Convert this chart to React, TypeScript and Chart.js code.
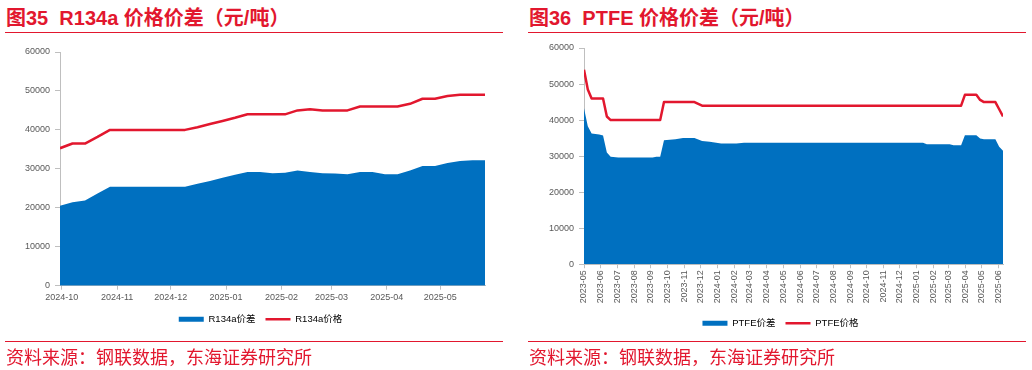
import React, { useEffect, useRef } from 'react';
import { Chart, registerables } from 'chart.js';

Chart.register(...registerables);

// ---------- R134a (left) ----------
const R134A_DATES = [
  '2024-09-30', '2024-10-07', '2024-10-14', '2024-10-21', '2024-10-28',
  '2024-11-04', '2024-11-11', '2024-11-18', '2024-11-25', '2024-12-02',
  '2024-12-09', '2024-12-16', '2024-12-23', '2024-12-30', '2025-01-06',
  '2025-01-13', '2025-01-20', '2025-01-27', '2025-02-03', '2025-02-10',
  '2025-02-17', '2025-02-24', '2025-03-03', '2025-03-10', '2025-03-17',
  '2025-03-24', '2025-03-31', '2025-04-07', '2025-04-14', '2025-04-21',
  '2025-04-28', '2025-05-05', '2025-05-12', '2025-05-19', '2025-05-26',
];
const R134A_SPREAD = [
  20500, 21400, 21900, 23700, 25400,
  25400, 25400, 25400, 25400, 25400,
  25400, 26200, 26900, 27700, 28500,
  29200, 29200, 28900, 29000, 29600,
  29200, 28900, 28800, 28600, 29200,
  29200, 28600, 28600, 29600, 30700,
  30700, 31500, 32000, 32200, 32200,
];
const R134A_PRICE = [
  35300, 36500, 36500, 38200, 40000,
  40000, 40000, 40000, 40000, 40000,
  40000, 40700, 41500, 42300, 43100,
  44000, 44000, 44000, 44000, 45000,
  45300, 45000, 45000, 45000, 46000,
  46000, 46000, 46000, 46700, 48000,
  48000, 48700, 49000, 49000, 49000,
];
const R134A_MONTHS = ['2024-10', '2024-11', '2024-12', '2025-01', '2025-02', '2025-03', '2025-04', '2025-05'];

// ---------- PTFE (right) ----------
const PTFE_DATES = [
  '2023-05-01', '2023-05-08', '2023-05-15', '2023-05-29', '2023-06-05',
  '2023-06-12', '2023-06-19', '2023-07-03', '2023-09-04', '2023-09-11',
  '2023-09-18', '2023-09-25', '2023-10-16', '2023-10-30', '2023-11-20',
  '2023-12-04', '2023-12-18', '2024-01-08', '2024-02-05', '2024-02-19',
  '2025-01-13', '2025-01-20', '2025-03-03', '2025-03-10', '2025-03-24',
  '2025-03-31', '2025-04-21', '2025-04-28', '2025-05-05', '2025-05-26',
  '2025-06-02', '2025-06-09',
];
const PTFE_SPREAD = [
  43300, 38300, 36300, 36000, 35700,
  31000, 29800, 29600, 29600, 29800,
  29800, 34400, 34700, 35000, 35000,
  34200, 34000, 33500, 33500, 33700,
  33700, 33300, 33300, 33000, 33000,
  35800, 35800, 34900, 34700, 34700,
  32600, 31500,
];
const PTFE_PRICE = [
  54000, 48500, 46000, 46000, 46000,
  41000, 40000, 40000, 40000, 40000,
  40000, 45000, 45000, 45000, 45000,
  44000, 44000, 44000, 44000, 44000,
  44000, 44000, 44000, 44000, 44000,
  47000, 47000, 45600, 45000, 45000,
  43000, 41000,
];
const PTFE_MONTHS = [
  '2023-05', '2023-06', '2023-07', '2023-08', '2023-09', '2023-10', '2023-11', '2023-12',
  '2024-01', '2024-02', '2024-03', '2024-04', '2024-05', '2024-06', '2024-07', '2024-08',
  '2024-09', '2024-10', '2024-11', '2024-12', '2025-01', '2025-02', '2025-03', '2025-04',
  '2025-05', '2025-06',
];

const Y_TICKS_MAX = 60000;
const Y_TICKS_STEP = 10000;

const BLUE = '#0070C0';
const RED = '#E2172E';
const AXIS = '#BFBFBF';
const TICK = '#595959';
const FONT = '"Liberation Sans", Arial, "Noto Sans CJK SC", sans-serif';

const toDay = (s: string) => {
  const [y, m, d] = s.split('-').map(Number);
  return Date.UTC(y, m - 1, d || 1) / 86400000;
};

type Cfg = {
  dates: string[];
  spread: number[];
  price: number[];
  months: string[];
  spreadLabel: string;
  priceLabel: string;
  rotate: boolean;
  yAxisWidth: number;
  xAxisHeight: number;
  legendShift: number;
  pad: { left: number; right: number; top: number; bottom: number };
};

function ChartCanvas({ cfg, left }: { cfg: Cfg; left: number }) {
  const ref = useRef<HTMLCanvasElement>(null);
  useEffect(() => {
    const monthMap = new Map<number, string>();
    cfg.months.forEach((m) => monthMap.set(toDay(m + '-01'), m));
    const xs = cfg.dates.map(toDay);
    const legendShiftPlugin = {
      id: 'legendShift',
      afterLayout(chart: any) {
        const lg = chart.legend;
        if (lg) {
          lg.left += cfg.legendShift;
          lg.right += cfg.legendShift;
        }
      },
    };
    const chart = new Chart(ref.current!, {
      type: 'line',
      data: {
        datasets: [
          {
            label: cfg.spreadLabel,
            data: xs.map((x, i) => ({ x, y: cfg.spread[i] })),
            fill: 'origin',
            backgroundColor: BLUE,
            borderColor: BLUE,
            borderWidth: 0,
            pointRadius: 0,
            tension: 0,
          },
          {
            label: cfg.priceLabel,
            data: xs.map((x, i) => ({ x, y: cfg.price[i] })),
            fill: false,
            borderColor: RED,
            backgroundColor: RED,
            borderWidth: 2.5,
            borderJoinStyle: 'round',
            pointRadius: 0,
            tension: 0,
          },
        ],
      },
      options: {
        animation: false,
        responsive: false,
        events: [],
        layout: { padding: cfg.pad },
        scales: {
          x: {
            type: 'linear',
            min: xs[0],
            max: xs[xs.length - 1],
            afterBuildTicks: (scale: any) => {
              scale.ticks = cfg.months.map((m) => ({ value: toDay(m + '-01') }));
            },
            afterFit: (scale: any) => {
              scale.height = cfg.xAxisHeight;
            },
            ticks: {
              autoSkip: false,
              minRotation: cfg.rotate ? 90 : 0,
              maxRotation: cfg.rotate ? 90 : 0,
              padding: 2,
              color: TICK,
              font: { family: FONT, size: 9 },
              callback: (v: any) => monthMap.get(Number(v)) ?? '',
            },
            grid: { display: true, drawOnChartArea: false, drawTicks: true, tickLength: 4, color: AXIS },
            border: { display: true, color: AXIS, width: 1 },
          },
          y: {
            min: 0,
            max: Y_TICKS_MAX,
            afterFit: (scale: any) => {
              scale.width = cfg.yAxisWidth;
            },
            ticks: {
              stepSize: Y_TICKS_STEP,
              padding: 5,
              color: TICK,
              font: { family: FONT, size: 9 },
              callback: (v: any) => String(v),
            },
            grid: { display: true, drawOnChartArea: false, drawTicks: true, tickLength: 5, color: AXIS },
            border: { display: true, color: AXIS, width: 1 },
          },
        },
        plugins: {
          tooltip: { enabled: false },
          legend: {
            display: true,
            position: 'bottom',
            labels: {
              usePointStyle: true,
              pointStyleWidth: 25,
              boxHeight: 5,
              padding: 10,
              color: '#404040',
              font: { family: FONT, size: 9.5 },
              generateLabels: () => [
                {
                  text: cfg.spreadLabel,
                  fillStyle: BLUE,
                  strokeStyle: BLUE,
                  lineWidth: 0,
                  pointStyle: 'rect',
                  datasetIndex: 0,
                  hidden: false,
                },
                {
                  text: cfg.priceLabel,
                  fillStyle: RED,
                  strokeStyle: RED,
                  lineWidth: 2.5,
                  pointStyle: 'line',
                  datasetIndex: 1,
                  hidden: false,
                },
              ],
            },
          },
        },
      } as any,
      plugins: [legendShiftPlugin],
    });
    return () => chart.destroy();
  }, []);
  return (
    <canvas
      ref={ref}
      width={516}
      height={310}
      style={{ position: 'absolute', left, top: 36, width: 516, height: 310 }}
    />
  );
}

const TITLE_STYLE: React.CSSProperties = {
  position: 'absolute',
  top: 8,
  fontSize: 20,
  lineHeight: '20px',
  fontWeight: 'bold',
  color: RED,
  whiteSpace: 'pre',
  fontFamily: '"Liberation Sans", Arial, "Noto Sans CJK SC", sans-serif',
};
const SOURCE_STYLE: React.CSSProperties = {
  position: 'absolute',
  top: 347,
  fontSize: 18,
  lineHeight: '18px',
  color: RED,
  whiteSpace: 'pre',
  fontFamily: '"Noto Sans CJK SC", sans-serif',
};

function Panel({ x, ruleX, title, cfg }: { x: number; ruleX: number; title: string; cfg: Cfg }) {
  return (
    <>
      <div style={{ ...TITLE_STYLE, left: ruleX + 1 }}>{title}</div>
      <div style={{ position: 'absolute', left: ruleX, top: 31.5, width: 498, height: 1.5, background: RED }} />
      <ChartCanvas cfg={cfg} left={x} />
      <div style={{ position: 'absolute', left: ruleX, top: 340.5, width: 498, height: 1.5, background: RED }} />
      <div style={{ ...SOURCE_STYLE, left: ruleX + 1 }}>资料来源：钢联数据，东海证券研究所</div>
    </>
  );
}

const LEFT_CFG: Cfg = {
  dates: R134A_DATES,
  spread: R134A_SPREAD,
  price: R134A_PRICE,
  months: R134A_MONTHS,
  spreadLabel: 'R134a价差',
  priceLabel: 'R134a价格',
  rotate: false,
  yAxisWidth: 60,
  xAxisHeight: 18.8,
  legendShift: 18,
  pad: { left: 0, right: 31, top: 16, bottom: 12 },
};

const RIGHT_CFG: Cfg = {
  dates: PTFE_DATES,
  spread: PTFE_SPREAD,
  price: PTFE_PRICE,
  months: PTFE_MONTHS,
  spreadLabel: 'PTFE价差',
  priceLabel: 'PTFE价格',
  rotate: true,
  yAxisWidth: 68,
  xAxisHeight: 44.25,
  legendShift: 21,
  pad: { left: 0, right: 29, top: 12, bottom: 8 },
};

export default function App() {
  useEffect(() => {
    document.body.style.margin = '0';
  }, []);
  return (
    <div style={{ position: 'fixed', left: 0, top: 0, width: 1032, height: 370, background: '#fff', overflow: 'hidden' }}>
      <Panel x={0} ruleX={5} title={'图35  R134a 价格价差（元/吨）'} cfg={LEFT_CFG} />
      <Panel x={516} ruleX={528} title={'图36  PTFE 价格价差（元/吨）'} cfg={RIGHT_CFG} />
    </div>
  );
}
